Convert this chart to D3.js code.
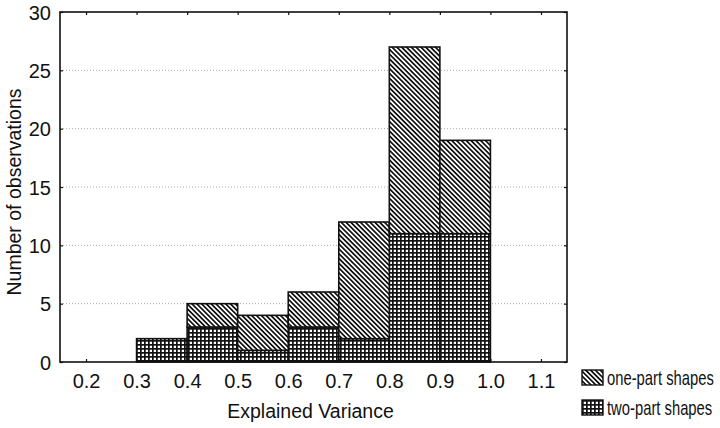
<!DOCTYPE html>
<html>
<head>
<meta charset="utf-8">
<script src="https://cdn.jsdelivr.net/npm/d3@7"></script>
<style>
  body { margin: 0; background: #fff; }
  svg { display: block; font-family: Arial, "Liberation Sans", sans-serif; }
</style>
</head>
<body>
<div id="chart"></div>
<script>
// histogram bins (lower edges, width 0.1)
const binStarts = [0.3, 0.4, 0.5, 0.6, 0.7, 0.8, 0.9]
const twoPart = [2, 3, 1, 3, 2, 11, 11]
const onePart = [0, 2, 3, 3, 10, 16, 8]
const xTicks = [0.2, 0.3, 0.4, 0.5, 0.6, 0.7, 0.8, 0.9, 1.0, 1.1]
const yTicks = [0, 5, 10, 15, 20, 25, 30]
const seriesNames = ['one-part shapes', 'two-part shapes']

const W = 720, H = 428
const m = { left: 60, right: 153, top: 12, bottom: 66 }
const pw = W - m.left - m.right
const ph = H - m.top - m.bottom

const svg = d3.select('#chart').append('svg')
  .attr('width', W).attr('height', H)

const defs = svg.append('defs')
let diag = defs.append('pattern')
  .attr('id', 'diag').attr('patternUnits', 'userSpaceOnUse')
  .attr('width', 3.4).attr('height', 3.4)
  .attr('patternTransform', 'rotate(45)')
diag.append('rect').attr('width', 3.4).attr('height', 3.4).attr('fill', '#fff')
diag.append('rect').attr('width', 3.4).attr('height', 1.7).attr('fill', '#111')

let grid = defs.append('pattern')
  .attr('id', 'grid').attr('patternUnits', 'userSpaceOnUse')
  .attr('width', 4).attr('height', 4)
grid.append('rect').attr('width', 4).attr('height', 4).attr('fill', '#fff')
grid.append('rect').attr('width', 4).attr('height', 1.7).attr('fill', '#111')
grid.append('rect').attr('width', 1.7).attr('height', 4).attr('fill', '#111')

const x = d3.scaleLinear().domain([0.1485, 1.1515]).range([0, pw])
const y = d3.scaleLinear().domain([0, 30]).range([ph, 0])

const g = svg.append('g').attr('transform', `translate(${m.left},${m.top})`)

// dotted grid lines
g.selectAll('.gl').data(yTicks.filter(d => d > 0 && d < 30)).enter()
  .append('line')
  .attr('x1', 0).attr('x2', pw)
  .attr('y1', d => y(d)).attr('y2', d => y(d))
  .attr('stroke', '#aaa').attr('stroke-width', 1)
  .attr('stroke-dasharray', '1,2')

// bars: two-part on bottom, one-part stacked on top
const rows = binStarts.map((b, i) => ({ b: b, two: twoPart[i], one: onePart[i] }))

g.selectAll('.two').data(rows).enter().append('rect')
  .attr('x', d => x(d.b))
  .attr('width', d => x(d.b + 0.1) - x(d.b))
  .attr('y', d => y(d.two))
  .attr('height', d => y(0) - y(d.two))
  .attr('fill', 'url(#grid)')
  .attr('stroke', '#111').attr('stroke-width', 1.6)

g.selectAll('.one').data(rows.filter(d => d.one > 0)).enter().append('rect')
  .attr('x', d => x(d.b))
  .attr('width', d => x(d.b + 0.1) - x(d.b))
  .attr('y', d => y(d.two + d.one))
  .attr('height', d => y(d.two) - y(d.two + d.one))
  .attr('fill', 'url(#diag)')
  .attr('stroke', '#111').attr('stroke-width', 1.6)

// frame
g.append('rect').attr('width', pw).attr('height', ph)
  .attr('fill', 'none').attr('stroke', '#111').attr('stroke-width', 1.6)

// axes with inward ticks
const xAxis = g.append('g').attr('transform', `translate(0,${ph})`)
  .call(d3.axisBottom(x).tickValues(xTicks).tickSize(-3).tickPadding(12)
    .tickFormat(d3.format('.1f')))
const xTop = g.append('g')
  .call(d3.axisTop(x).tickValues(xTicks).tickSize(-3).tickFormat(''))
const yAxis = g.append('g')
  .call(d3.axisLeft(y).tickValues(yTicks).tickSize(-3).tickPadding(9))
const yRight = g.append('g').attr('transform', `translate(${pw},0)`)
  .call(d3.axisRight(y).tickValues(yTicks).tickSize(-3).tickFormat(''))

for (let a of [xAxis, xTop, yAxis, yRight]) {
  a.select('.domain').remove()
  a.selectAll('line').attr('stroke', '#111').attr('stroke-width', 1.2)
  a.selectAll('text').attr('font-size', 20).attr('fill', '#111')
    .attr('font-family', 'Arial, "Liberation Sans", sans-serif')
}
yAxis.selectAll('text').attr('dy', '0.36em')

// axis titles
svg.append('text')
  .attr('x', m.left + x(0.65) - 3).attr('y', 418)
  .attr('text-anchor', 'middle').attr('font-size', 19.5).attr('fill', '#111')
  .text('Explained Variance')
svg.append('text')
  .attr('transform', `translate(21,${m.top + y(15) + 5}) rotate(-90)`)
  .attr('text-anchor', 'middle').attr('font-size', 19.5).attr('fill', '#111')
  .text('Number of observations')

// legend (condensed text like the original narrow font)
const legend = svg.append('g').attr('transform', 'translate(582,370)')
seriesNames.forEach((name, i) => {
  let row = legend.append('g').attr('transform', `translate(0,${i * 30})`)
  row.append('rect').attr('width', 21).attr('height', 15)
    .attr('fill', i == 0 ? 'url(#diag)' : 'url(#grid)')
    .attr('stroke', '#111').attr('stroke-width', 1.4)
  row.append('text')
    .attr('transform', 'translate(25,14.5) scale(0.74,1)')
    .attr('font-size', 20).attr('fill', '#111')
    .text(name)
})
</script>
</body>
</html>
